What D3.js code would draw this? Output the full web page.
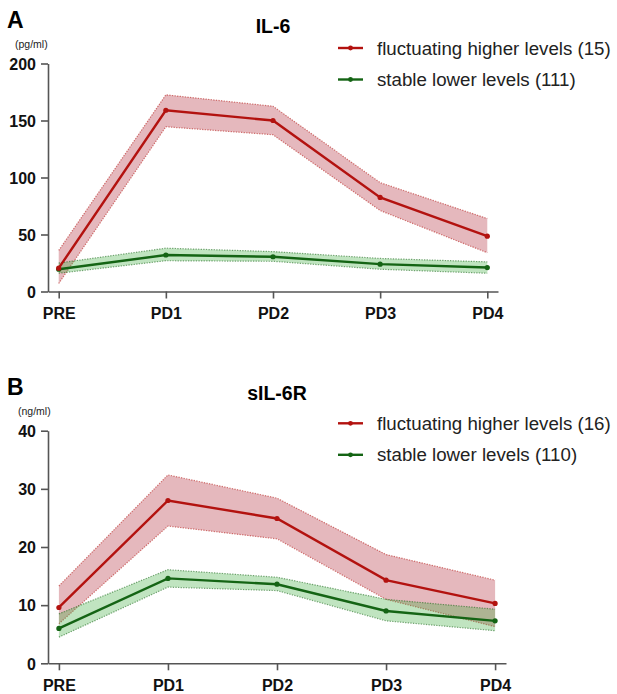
<!DOCTYPE html>
<html>
<head>
<meta charset="utf-8">
<script src="https://cdn.jsdelivr.net/npm/d3@7"></script>
<style>
  body { margin: 0; background: #fff; }
  svg { display: block; font-family: Arial, "Liberation Sans", sans-serif; }
  .tick text { font-weight: bold; font-size: 16px; fill: #111; }
</style>
</head>
<body>
<div id="chart"></div>
<script>
// IL-6 / sIL-6R time courses, two groups, mean line with shaded CI band.
const TIMEPOINTS = ["PRE", "PD1", "PD2", "PD3", "PD4"];

// panel A: IL-6 (pg/ml)
const IL6_HIGH = [20.5, 159, 150, 82.5, 48.5];
const IL6_HIGH_LO = [7, 144.5, 137.5, 71, 34];
const IL6_HIGH_HI = [36, 172.5, 162.5, 95.5, 64];
const IL6_LOW = [19.5, 32, 30.5, 24, 21];
const IL6_LOW_LO = [16, 27, 26.5, 19.5, 16];
const IL6_LOW_HI = [25, 38, 35, 29, 26];
const IL6_TICKS = [0, 50, 100, 150, 200];

// panel B: sIL-6R (ng/ml)
const SIL6R_HIGH = [9.6, 28, 24.9, 14.3, 10.3];
const SIL6R_HIGH_LO = [6.8, 23.6, 21.4, 11, 6.3];
const SIL6R_HIGH_HI = [13.3, 32.4, 28.4, 18.7, 14.3];
const SIL6R_LOW = [6.0, 14.6, 13.6, 9.0, 7.3];
const SIL6R_LOW_LO = [4.5, 13.1, 12.5, 7.3, 5.6];
const SIL6R_LOW_HI = [8.5, 16.1, 14.8, 11.0, 9.3];
const SIL6R_TICKS = [0, 10, 20, 30, 40];

const RED = "#b3120f", RED_FILL = "rgba(175,35,50,0.32)";
const GREEN = "#146414", GREEN_FILL = "rgba(60,170,60,0.32)";

const svg = d3.select("#chart").append("svg").attr("width", 617).attr("height", 694);

function panel(o) {
  const x = d3.scalePoint().domain(TIMEPOINTS).range([48, o.xEnd]).padding(0.1);
  const y = d3.scaleLinear().domain(o.yDomain).range([o.y0, o.y1]);
  const g = svg.append("g");

  const rows = (mean, lo, hi) => TIMEPOINTS.map((t, i) => ({ t, m: mean[i], lo: lo[i], hi: hi[i] }));
  const series = [
    { color: GREEN, fill: GREEN_FILL, data: rows(o.low, o.lowLo, o.lowHi) },
    { color: RED, fill: RED_FILL, data: rows(o.high, o.highLo, o.highHi) }
  ];
  const area = d3.area().x(d => x(d.t)).y0(d => y(d.lo)).y1(d => y(d.hi));
  const line = d3.line().x(d => x(d.t)).y(d => y(d.m));

  // bands first, then lines on top
  for (const s of [series[1], series[0]]) {
    g.append("path").attr("d", area(s.data)).attr("fill", s.fill);
    for (const k of ["lo", "hi"]) {
      g.append("path").attr("d", d3.line().x(d => x(d.t)).y(d => y(d[k]))(s.data))
        .attr("fill", "none").attr("stroke", s.color).attr("stroke-opacity", 0.55)
        .attr("stroke-width", 1.2).attr("stroke-dasharray", "1.3,1.3");
    }
  }
  for (const s of series) {
    g.append("path").attr("d", line(s.data)).attr("fill", "none")
      .attr("stroke", s.color).attr("stroke-width", 2.4);
    g.selectAll(null).data(s.data).join("circle")
      .attr("cx", d => x(d.t)).attr("cy", d => y(d.m)).attr("r", 2.6).attr("fill", s.color);
  }

  // axes
  const yAxis = g.append("g").attr("transform", "translate(48,0)")
    .call(d3.axisLeft(y).tickValues(o.ticks).tickSize(7).tickSizeOuter(0).tickPadding(5));
  const xAxis = g.append("g").attr("transform", `translate(0,${o.y0})`)
    .call(d3.axisBottom(x).tickSize(7).tickSizeOuter(0).tickPadding(7));
  for (const a of [yAxis, xAxis]) {
    a.select(".domain").attr("stroke", "#555").attr("stroke-width", 1.6);
    a.selectAll(".tick line").attr("stroke", "#555").attr("stroke-width", 1.6);
  }
  yAxis.selectAll(".tick text").attr("dy", "0.36em");
  xAxis.selectAll(".tick text").attr("dy", "0.85em");

  // labels
  g.append("text").attr("x", 7).attr("y", o.y1 - 36).attr("font-size", 23).attr("font-weight", "bold")
    .text(o.letter);
  g.append("text").attr("x", x("PD2")).attr("y", o.y1 - 31).attr("text-anchor", "middle")
    .attr("font-size", 19.5).attr("font-weight", "bold").text(o.title);
  g.append("text").attr("x", o.unitX).attr("y", o.y1 - 16).attr("font-size", 10.5).attr("fill", "#222")
    .text(o.unit);

  // legend
  o.legend.forEach((txt, i) => {
    const ly = o.legendY + i * 31.5, c = i === 0 ? RED : GREEN;
    g.append("line").attr("x1", 338).attr("x2", 363).attr("y1", ly).attr("y2", ly)
      .attr("stroke", c).attr("stroke-width", 2.4);
    g.append("circle").attr("cx", 350.5).attr("cy", ly).attr("r", 2.4).attr("fill", c);
    g.append("text").attr("x", 377).attr("y", ly + 6.5).attr("font-size", 18.7).attr("fill", "#222").text(txt);
  });
}

panel({
  letter: "A", title: "IL-6", unit: "(pg/ml)", unitX: 15,
  yDomain: [0, 200], y0: 291.5, y1: 63.5, xEnd: 498, ticks: IL6_TICKS,
  high: IL6_HIGH, highLo: IL6_HIGH_LO, highHi: IL6_HIGH_HI,
  low: IL6_LOW, lowLo: IL6_LOW_LO, lowHi: IL6_LOW_HI,
  legend: ["fluctuating higher levels (15)", "stable lower levels (111)"], legendY: 48
});

panel({
  letter: "B", title: "sIL-6R", unit: "(ng/ml)", unitX: 18,
  yDomain: [0, 40], y0: 663.3, y1: 430.7, xEnd: 506, ticks: SIL6R_TICKS,
  high: SIL6R_HIGH, highLo: SIL6R_HIGH_LO, highHi: SIL6R_HIGH_HI,
  low: SIL6R_LOW, lowLo: SIL6R_LOW_LO, lowHi: SIL6R_LOW_HI,
  legend: ["fluctuating higher levels (16)", "stable lower levels (110)"], legendY: 423.3
});
</script>
</body>
</html>
